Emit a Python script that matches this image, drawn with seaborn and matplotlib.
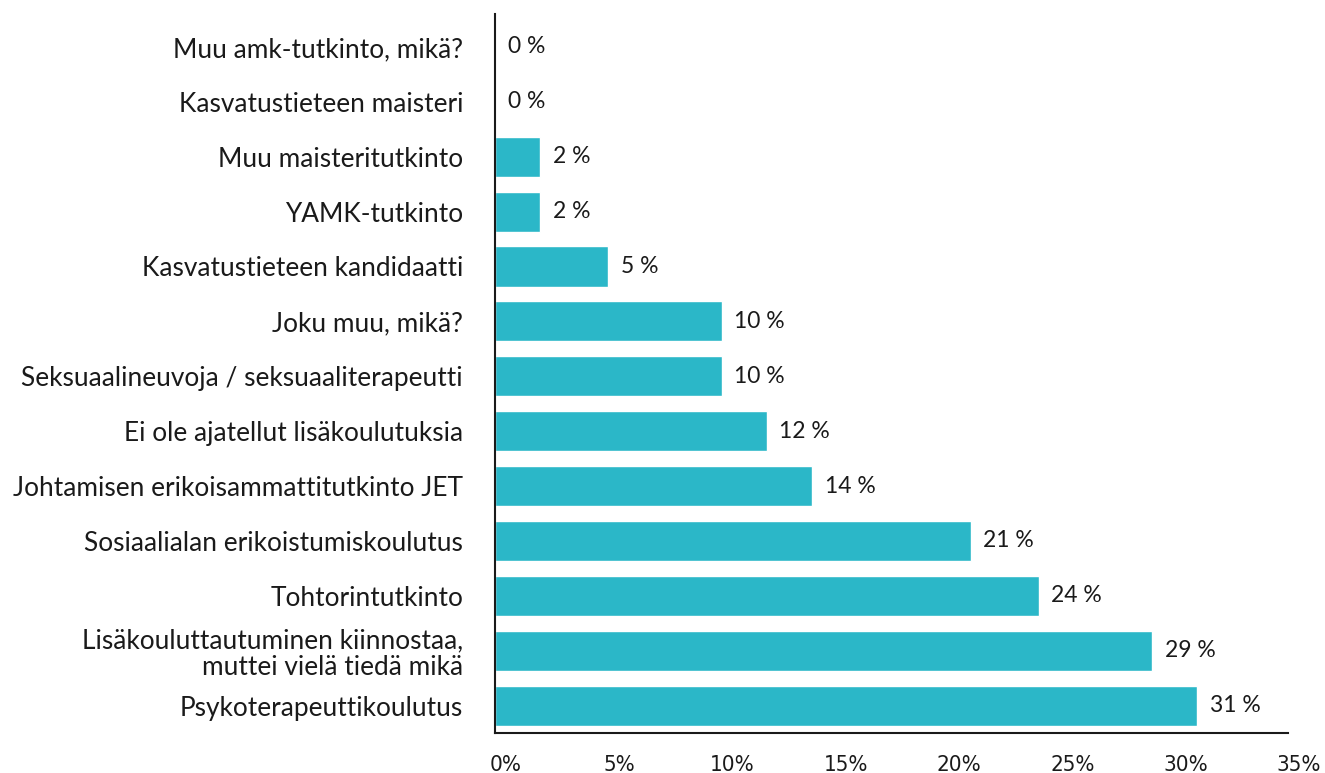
import matplotlib
matplotlib.use('Agg')
import matplotlib.pyplot as plt
import matplotlib.transforms as mtransforms
import seaborn as sns
import pandas as pd

# data
categories = [
    'Muu amk-tutkinto, mikä?',
    'Kasvatustieteen maisteri',
    'Muu maisteritutkinto',
    'YAMK-tutkinto',
    'Kasvatustieteen kandidaatti',
    'Joku muu, mikä?',
    'Seksuaalineuvoja / seksuaaliterapeutti',
    'Ei ole ajatellut lisäkoulutuksia',
    'Johtamisen erikoisammattitutkinto JET',
    'Sosiaalialan erikoistumiskoulutus',
    'Tohtorintutkinto',
    'Lisäkouluttautuminen kiinnostaa,\nmuttei vielä tiedä mikä',
    'Psykoterapeuttikoulutus',
]
values = [0, 0, 2, 2, 5, 10, 10, 12, 14, 21, 24, 29, 31]
xticks = [0, 5, 10, 15, 20, 25, 30, 35]
xtick_labels = ['0%', '5%', '10%', '15%', '20%', '25%', '30%', '35%']

df = pd.DataFrame({'kategoria': categories, 'osuus': values})

sns.set_theme(style='white')
plt.rcParams['font.family'] = ['Lato', 'DejaVu Sans']

fig = plt.figure(figsize=(13.25, 7.73), dpi=100)
ax = fig.add_axes([0.3736, 0.0517, 0.5985, 0.9302])

sns.barplot(data=df, x='osuus', y='kategoria', color='#2bb7c8', saturation=1,
            width=0.73, ax=ax, orient='h')

ax.bar_label(ax.containers[0], labels=[f'{v} %' for v in values],
             padding=9, fontsize=16.5, color='#1a1a1a')

ax.set_xlim(0, 35)
ax.set_ylim(12.5, -0.6)
ax.set_xticks(xticks)
ax.set_xticklabels(xtick_labels, fontsize=16, family='DejaVu Sans',
                   fontstretch='condensed', color='#1a1a1a')
ax.tick_params(axis='x', length=0, pad=16)
ax.tick_params(axis='y', length=0, pad=23, labelsize=18.9, labelcolor='#1a1a1a')
for lab in ax.get_yticklabels():
    lab.set_linespacing(1.1)
offset = mtransforms.ScaledTranslation(0.11, 0, fig.dpi_scale_trans)
for lab in ax.xaxis.get_majorticklabels():
    lab.set_transform(lab.get_transform() + offset)
ax.set_xlabel('')
ax.set_ylabel('')

for side in ['top', 'right']:
    ax.spines[side].set_visible(False)
for side in ['left', 'bottom']:
    ax.spines[side].set_color('#1a1a1a')
    ax.spines[side].set_linewidth(1.5)

fig.savefig('out.png', dpi=100)
